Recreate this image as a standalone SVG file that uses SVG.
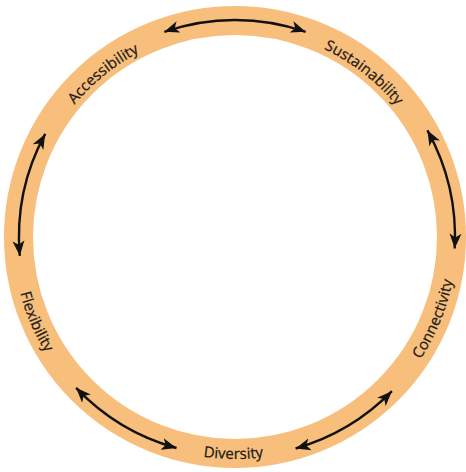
<svg xmlns="http://www.w3.org/2000/svg" xmlns:xlink="http://www.w3.org/1999/xlink" width="466" height="472" viewBox="0 0 466 472">
  <style>
    .ring { fill: none; stroke: #F8BF7C; stroke-width: 29; }
    .lbl { font-family: "Open Sans", "Liberation Sans", sans-serif; font-size: 15px; fill: #1c1a17; stroke: #1c1a17; stroke-width: 0.25; }
    .arr { fill: none; stroke: #111; stroke-width: 2.4; marker-start: url(#head); marker-end: url(#head); }
  </style>
  <defs>
    <marker id="head" markerUnits="userSpaceOnUse" markerWidth="16" markerHeight="13" refX="15" refY="6" orient="auto-start-reverse" viewBox="0 0 16 12">
      <path d="M0,0 L15,6 L0,12 L4,6 Z" fill="#111"/>
    </marker>
    <path id="cw" d="M235,445 A208 208 0 0 1 235,29 A208 208 0 0 1 235,445"/>
    <path id="ccw" d="M235,15 A222 222 0 0 0 235,459 A222 222 0 0 0 235,15"/>
  </defs>
  <rect width="466" height="472" fill="#ffffff"/>
  <circle class="ring" cx="235" cy="237" r="216.5"/>
  <g id="connectors">
    <path class="arr" d="M164.35,31.8 A217 217 0 0 1 305.65,31.8"/>
    <path class="arr" d="M427.4,130.3 A220 220 0 0 1 454.7,248.5"/>
    <path class="arr" d="M391.9,391.2 A220 220 0 0 1 295.6,448.5"/>
    <path class="arr" d="M176.5,448 A219 219 0 0 1 76.1,387.8"/>
    <path class="arr" d="M19.8,255.8 A216 216 0 0 1 45.2,133.9"/>
  </g>
  <g id="accessibility">
    <text class="lbl" text-anchor="middle"><textPath xlink:href="#cw" startOffset="511.9">Accessibility</textPath></text>
  </g>
  <g id="sustainability">
    <text class="lbl" text-anchor="middle"><textPath xlink:href="#cw" startOffset="791.4">Sustainability</textPath></text>
  </g>
  <g id="connectivity">
    <text class="lbl" text-anchor="middle"><textPath xlink:href="#ccw" startOffset="959">Connectivity</textPath></text>
  </g>
  <g id="diversity">
    <text class="lbl" text-anchor="middle"><textPath xlink:href="#ccw" startOffset="695.5">Diversity</textPath></text>
  </g>
  <g id="flexibility">
    <text class="lbl" text-anchor="middle"><textPath xlink:href="#ccw" startOffset="437.8">Flexibility</textPath></text>
  </g>
</svg>
